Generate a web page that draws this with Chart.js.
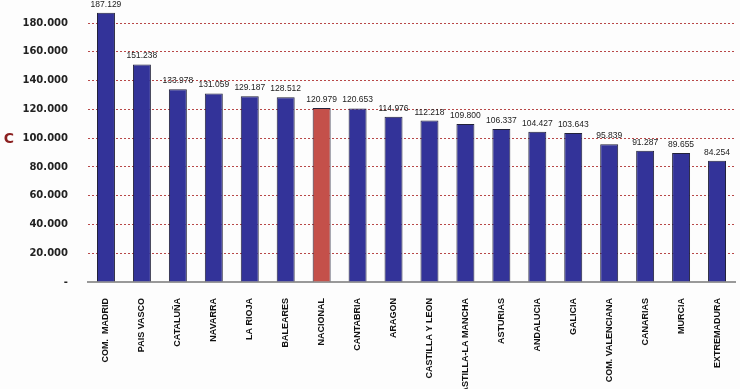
<!DOCTYPE html>
<html>
<head>
<meta charset="utf-8">
<script src="https://cdn.jsdelivr.net/npm/chart.js@4"></script>
<style>
  body { margin: 0; background: #fdfdfd; }
  #wrap { width: 740px; height: 389px; position: relative; }
</style>
</head>
<body>
<div id="wrap"><canvas id="regionChart"></canvas></div>
<script>
// Regions and values
const regions = ['COM.  MADRID', 'PAIS VASCO', 'CATALUÑA', 'NAVARRA', 'LA RIOJA', 'BALEARES',
  'NACIONAL', 'CANTABRIA', 'ARAGON', 'CASTILLA Y LEON', 'CASTILLA-LA MANCHA', 'ASTURIAS',
  'ANDALUCIA', 'GALICIA', 'COM. VALENCIANA', 'CANARIAS', 'MURCIA', 'EXTREMADURA'];
const values = [187129, 151238, 133978, 131059, 129187, 128512, 120979, 120653, 114976,
  112218, 109800, 106337, 104427, 103643, 95839, 91287, 89655, 84254];
const highlighted = ['NACIONAL'];
const yTicks = [0, 20000, 40000, 60000, 80000, 100000, 120000, 140000, 160000, 180000];

const fmt = v => v === 0 ? '-' : String(v).replace(/\B(?=(\d{3})+(?!\d))/g, '.');

const barColors = regions.map(r => highlighted.includes(r) ? '#c4504a' : '#333399');

// value labels above the bars + the lone "C" on the left
const extras = {
  id: 'extras',
  afterDatasetsDraw(chart) {
    const ctx = chart.ctx;
    const meta = chart.getDatasetMeta(0);
    ctx.save();
    ctx.font = '8.5px "Liberation Sans", Arial, sans-serif';
    ctx.fillStyle = '#222';
    ctx.textAlign = 'center';
    ctx.textBaseline = 'alphabetic';
    meta.data.forEach((bar, i) => {
      ctx.fillText(fmt(values[i]), bar.x, bar.y - 6);
    });
    ctx.font = 'bold 14px "DejaVu Sans", Verdana, sans-serif';
    ctx.fillStyle = '#8b2020';
    ctx.textBaseline = 'middle';
    ctx.fillText('C', 9, 139);
    ctx.restore();
  }
};

new Chart(document.getElementById('regionChart'), {
  type: 'bar',
  data: {
    labels: regions,
    datasets: [{
      data: values,
      backgroundColor: barColors,
      borderColor: '#22223a',
      borderWidth: 1,
      barPercentage: 0.5,
      categoryPercentage: 1
    }]
  },
  options: {
    responsive: true,
    maintainAspectRatio: false,
    animation: false,
    layout: { padding: { top: 0, right: 5, left: 0, bottom: 0 } },
    plugins: { legend: { display: false }, tooltip: { enabled: false } },
    scales: {
      x: {
        grid: { display: false },
        border: { color: '#999', width: 2 },
        ticks: {
          autoSkip: false,
          minRotation: 90,
          maxRotation: 90,
          padding: 8,
          color: '#111',
          font: { family: '"Liberation Sans", Arial, sans-serif', size: 9, weight: 'bold' }
        },
        afterFit(scale) { scale.height = 107; }
      },
      y: {
        min: 0,
        max: 190500,
        afterBuildTicks(scale) {
          scale.ticks = yTicks.map(v => ({ value: v }));
        },
        grid: {
          drawTicks: true,
          tickLength: 18,
          tickColor: 'rgba(0,0,0,0)',
          color: '#b84848',
          lineWidth: 1
        },
        border: { display: false, dash: [2, 2] },
        ticks: {
          padding: 2,
          color: '#222',
          callback: v => fmt(v),
          font: { family: '"DejaVu Sans", Verdana, sans-serif', size: 10, weight: 'bold' }
        },
        afterFit(scale) { scale.width = 88; }
      }
    }
  },
  plugins: [extras]
});
</script>
</body>
</html>
